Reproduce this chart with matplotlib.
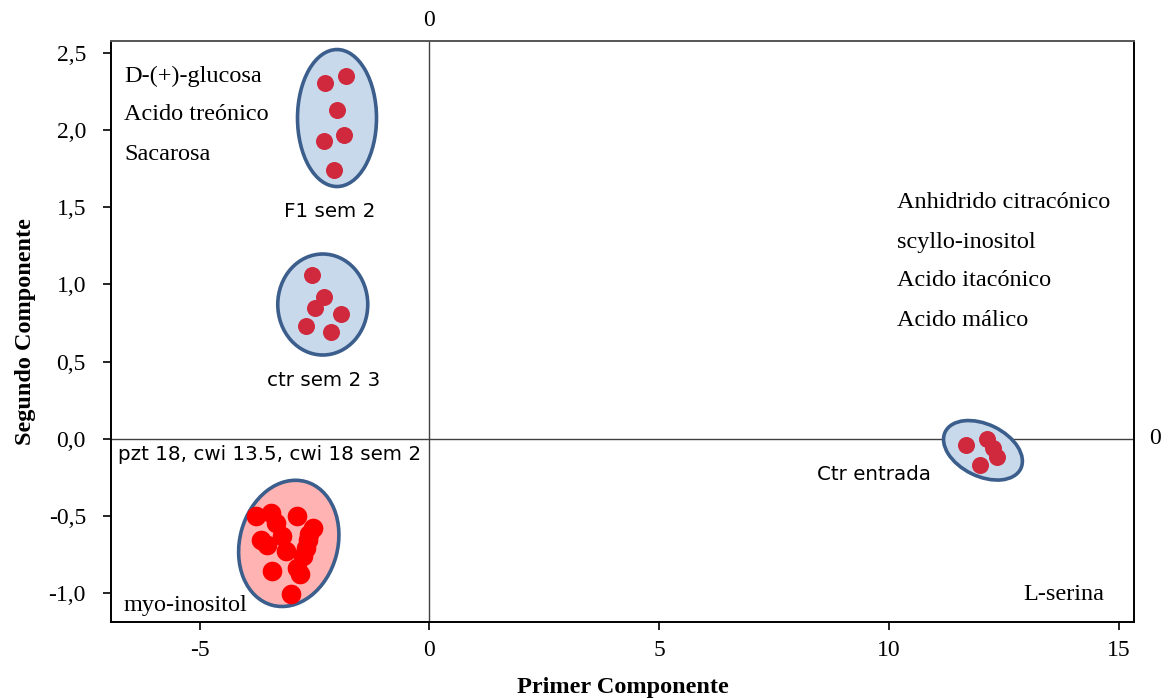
import matplotlib
matplotlib.use("Agg")
import matplotlib.pyplot as plt
from matplotlib.patches import Ellipse
from matplotlib.transforms import ScaledTranslation

# Scores of the samples on the first two principal components
f1_x = [-2.27, -1.81, -2.00, -1.85, -2.29, -2.07]
f1_y = [2.31, 2.35, 2.13, 1.97, 1.93, 1.74]

ctr_x = [-2.55, -2.29, -2.49, -1.92, -2.69, -2.13]
ctr_y = [1.06, 0.92, 0.85, 0.81, 0.73, 0.69]

entr_x = [11.68, 12.14, 12.27, 12.36, 11.99]
entr_y = [-0.04, 0.00, -0.06, -0.12, -0.17]

pzt_x = [-3.78, -3.44, -3.34, -2.89, -2.54, -2.61, -2.65, -2.69, -2.76,
         -3.20, -3.67, -3.54, -3.11, -3.43, -2.87, -2.82, -3.01]
pzt_y = [-0.50, -0.48, -0.55, -0.50, -0.58, -0.62, -0.66, -0.71, -0.76,
         -0.63, -0.66, -0.69, -0.73, -0.86, -0.84, -0.88, -1.01]

x_ticks = [-5, 0, 5, 10, 15]
y_ticks = [-1.0, -0.5, 0.0, 0.5, 1.0, 1.5, 2.0, 2.5]
y_tick_labels = ["-1,0", "-0,5", "0,0", "0,5", "1,0", "1,5", "2,0", "2,5"]

serif = ["Liberation Serif", "DejaVu Serif"]
sans = ["DejaVu Sans"]
FS = 17.5      # serif text size
FS_SANS = 14.3  # group label size

fig = plt.figure(figsize=(11.68, 6.98), dpi=100)
ax = fig.add_axes([0.095, 0.1089, 0.876, 0.8324])
ax.set_xlim(-6.93, 15.34)
ax.set_ylim(-1.19, 2.58)

# reference lines through the origin
ax.axhline(0, color="#404040", lw=1.0, zorder=1)
ax.axvline(0, color="#404040", lw=1.0, zorder=1)


def group_ellipse(cx, cy, w_px, h_px, angle, face):
    # size in pixels, centre in data coordinates
    tr = fig.dpi_scale_trans + ScaledTranslation(cx, cy, ax.transData)
    e = Ellipse((0, 0), w_px / 100, h_px / 100, angle=angle, transform=tr,
                facecolor=face, edgecolor="#3B5E8C", lw=2.6, zorder=2)
    ax.add_patch(e)


blue_fill = "#C9D9EC"
group_ellipse(-2.01, 2.08, 79, 137, 0, blue_fill)
group_ellipse(-2.32, 0.87, 90, 101, 0, blue_fill)
group_ellipse(12.05, -0.076, 84, 52, -26, blue_fill)
group_ellipse(-3.06, -0.68, 98, 128, -15, "#FFB3B3")

dot = "#D0283C"
ax.scatter(f1_x, f1_y, s=150, color=dot, zorder=3, linewidths=0)
ax.scatter(ctr_x, ctr_y, s=150, color=dot, zorder=3, linewidths=0)
ax.scatter(entr_x, entr_y, s=150, color=dot, zorder=3, linewidths=0)
ax.scatter(pzt_x, pzt_y, s=200, color="#FF0000", zorder=3, linewidths=0)

ax.set_xticks(x_ticks)
ax.set_xticklabels([str(v) for v in x_ticks])
ax.set_yticks(y_ticks)
ax.set_yticklabels(y_tick_labels)
ax.tick_params(direction="out", length=6, width=1.2, labelsize=17)
ax.tick_params(axis="x", pad=7)
ax.tick_params(axis="y", pad=12)
for lab in ax.get_xticklabels() + ax.get_yticklabels():
    lab.set_family(serif)

for s in ax.spines.values():
    s.set_linewidth(1.4)
ax.spines["top"].set_color("#555555")

ax.set_xlabel("Primer Componente", family=serif, fontsize=17.5, fontweight="bold")
ax.set_ylabel("Segundo Componente", family=serif, fontsize=17.5, fontweight="bold")
ax.xaxis.set_label_coords(0.5, -0.113)
ax.xaxis.label.set_va("center")
ax.yaxis.set_label_coords(-0.084, 0.5)
ax.yaxis.label.set_va("center")

# secondary zero marks
ax.text(0.0, 1.036, "0", transform=ax.get_xaxis_transform(), ha="center", va="center",
        family=serif, fontsize=17)
ax.text(1.0205, 0.0, "0", transform=ax.get_yaxis_transform(), ha="center", va="center",
        family=serif, fontsize=17)


def px_text(x, y, s, **k):
    ax.text(x / 100, (698 - y) / 100, s, transform=fig.dpi_scale_trans, **k)


# metabolite labels
for yy, s in zip([76, 115, 154], ["D-(+)-glucosa", "Acido treónico", "Sacarosa"]):
    px_text(124, yy, s, family=serif, fontsize=FS, va="center", ha="left")
for yy, s in zip([202, 242, 281, 321],
                 ["Anhidrido citracónico", "scyllo-inositol", "Acido itacónico", "Acido málico"]):
    px_text(897, yy, s, family=serif, fontsize=FS, va="center", ha="left")
px_text(124, 605, "myo-inositol", family=serif, fontsize=FS, va="center", ha="left")
px_text(1023, 595, "L-serina", family=serif, fontsize=FS, va="center", ha="left")

# group labels
px_text(330, 212, "F1 sem 2", family=sans, fontsize=FS_SANS, va="center", ha="center")
px_text(324, 380, "ctr sem 2 3", family=sans, fontsize=FS_SANS, va="center", ha="center")
px_text(118, 455, "pzt 18, cwi 13.5, cwi 18 sem 2", family=sans, fontsize=FS_SANS,
        va="center", ha="left")
px_text(817, 475, "Ctr entrada", family=sans, fontsize=FS_SANS, va="center", ha="left")

fig.savefig("out.png", dpi=100)
